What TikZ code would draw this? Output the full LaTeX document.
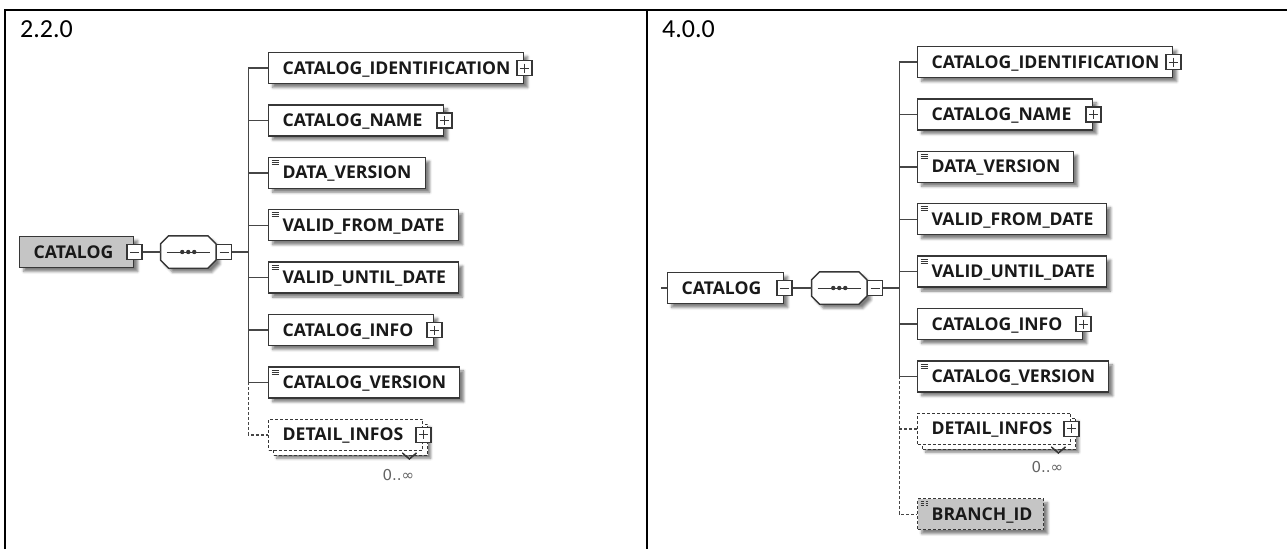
\documentclass[tikz,border=0pt]{standalone}
\usepackage{fontspec}
\setmainfont{Open Sans}
\newfontfamily\hdfont{Carlito}
\newfontfamily\symfont{DejaVu Sans}
\usepackage{tikz}
\usetikzlibrary{positioning,calc,shadows,shadows.blur}
\definecolor{xLine}{RGB}{55,55,55}
\definecolor{xWire}{RGB}{70,70,70}
\definecolor{xGray}{RGB}{197,197,197}
\definecolor{xText}{RGB}{25,25,25}
\definecolor{xMult}{RGB}{100,100,100}
\tikzset{
  base/.style={rectangle, draw=xLine, fill=white, line width=1.4pt,
               minimum height=31pt, inner xsep=14pt, inner ysep=0pt,
               text height=12pt, text depth=0pt, align=left, anchor=west,
               font=\fontsize{17.6pt}{20pt}\selectfont\bfseries, text=xText},
  shd/.style={blur shadow={shadow xshift=4pt, shadow yshift=-4pt,
               shadow blur radius=2.5pt, shadow opacity=50}},
  opt/.style={dash pattern=on 3pt off 2pt},
  multi/.style={opt,
               blur shadow={shadow xshift=8pt, shadow yshift=-8pt,
                            shadow blur radius=2.5pt, shadow opacity=50},
               general shadow={shadow xshift=5pt, shadow yshift=-5pt,
                               draw=xLine, fill=white, line width=1.4pt, opt}},
  doc/.style={path picture={%
      \foreach \k in {3,5,7}
        \draw[xLine, line width=0.7pt]
          ([xshift=3pt,yshift=-\k pt]path picture bounding box.north west) -- ++(7,0);}},
  pbox/.style={rectangle, draw=xLine, fill=white, line width=1.3pt,
               minimum size=15pt, inner sep=0pt,
               path picture={\draw[xLine, line width=1pt]
                 ([xshift=3pt]path picture bounding box.west) -- ([xshift=-3pt]path picture bounding box.east)
                 ([yshift=-3pt]path picture bounding box.north) -- ([yshift=3pt]path picture bounding box.south);}},
  mbox/.style={rectangle, draw=xLine, fill=white, line width=1.3pt,
               minimum size=15pt, inner sep=0pt,
               path picture={\draw[xLine, line width=1pt]
                 ([xshift=3pt]path picture bounding box.west) -- ([xshift=-3pt]path picture bounding box.east);}},
  seq/.style={rectangle, minimum width=54pt, minimum height=31pt, inner sep=0pt, outer sep=0.7pt},
  seqline/.style={draw=xLine, fill=white, line width=1.4pt, shd},
  conn/.style={draw=xWire, line width=1.4pt},
  dconn/.style={conn, opt},
  frame/.style={draw=black, line width=2pt},
  ver/.style={font=\hdfont\fontsize{26pt}{30pt}\selectfont, anchor=base west, inner sep=0pt},
  mult/.style={font=\symfont\fontsize{15pt}{17pt}\selectfont, text=xMult, inner sep=0pt},
}
\newcommand{\XsdElem}[4][]{%
  \node[base,text width=#3,#1] (#2) {#4};}
\newcommand{\XsdPlus}[1]{%
  \node[pbox] (#1-p) at (#1.east) {};}
% sequence compositor: octagon round an empty node, with the dotted bar
\newcommand{\XsdSeq}[1]{%
  \draw[seqline] ([xshift=8pt]#1.north west) -- ([xshift=-8pt]#1.north east)
    -- ([yshift=-8pt]#1.north east) -- ([yshift=8pt]#1.south east)
    -- ([xshift=-8pt]#1.south east) -- ([xshift=8pt]#1.south west)
    -- ([yshift=8pt]#1.south west) -- ([yshift=-8pt]#1.north west) -- cycle;
  \draw[xLine, line width=1pt] ([xshift=6pt]#1.west) -- ([xshift=-6pt]#1.east);
  \foreach \d in {-6,0,6}
    \fill[xLine] ([xshift=\d pt]#1.center) circle (2.2pt);}

\begin{document}
\begin{tikzpicture}[x=1pt,y=-1pt]
  \useasboundingbox (0,0) rectangle (1287,549);

  % table rules
  \draw[frame] (5,549) -- (5,10) -- (1287,10);
  \draw[frame] (646.5,10) -- (646.5,549);

  %%% version 2.2.0
  \node[ver] (lver) at (20,37) {2.2.0};
  \XsdElem[shd,fill=xGray,at={(19,252)}]{lcat}{86pt}{CATALOG}
  \node[mbox] (lcat-m) at (lcat.east) {};
  \node[seq,right=18pt of lcat-m] (lseq) {};
  \XsdSeq{lseq}
  \node[mbox,anchor=west] (lseq-m) at (lseq.east) {};
  \coordinate[right=16pt of lseq-m] (lj);

  \XsdElem[shd,at={(268,68)}]{lid}{227pt}{CATALOG\_IDENTIFICATION}
  \XsdElem[shd,below right=20pt and 0pt of lid.south west]{lnm}{147pt}{CATALOG\_NAME}
  \XsdElem[shd,doc,below right=20pt and 0pt of lnm.south west]{ldv}{129pt}{DATA\_VERSION}
  \XsdElem[shd,doc,below right=20pt and 0pt of ldv.south west]{lfd}{162pt}{VALID\_FROM\_DATE}
  \XsdElem[shd,doc,below right=20pt and 0pt of lfd.south west]{lud}{162pt}{VALID\_UNTIL\_DATE}
  \XsdElem[shd,below right=20pt and 0pt of lud.south west]{lin}{137pt}{CATALOG\_INFO}
  \XsdElem[shd,doc,below right=20pt and 0pt of lin.south west]{lve}{163pt}{CATALOG\_VERSION}
  \XsdElem[multi,below right=20pt and 0pt of lve.south west]{ldi}{126pt}{DETAIL\_INFOS}
  \foreach \n in {lid,lnm,lin,ldi} \XsdPlus{\n}
  \draw[xLine, line width=1pt] ($(ldi.south east)+(-21,2)$) -- ++(7,6) -- ++(7,-6);
  \node[mult] (ldi-n) at ($(ldi.south east)+(-25,24)$) {0..∞};

  \draw[conn] (lcat-m) -- (lseq);
  \draw[conn] (lseq-m) -- (lj);
  \draw[conn] (lj |- lid.west) -- (lj |- lve.west);
  \foreach \n in {lid,lnm,ldv,lfd,lud,lin,lve}
    \draw[conn] (lj |- \n.west) -- (\n.west);
  \draw[dconn] (lj |- lve.west) |- (ldi.west);

  %%% version 4.0.0
  \node[ver] (rver) at (662,37) {4.0.0};
  \XsdElem[shd,at={(667,288)}]{rcat}{88pt}{CATALOG}
  \coordinate[left=6pt of rcat] (rstub);
  \node[mbox] (rcat-m) at (rcat.east) {};
  \node[seq,right=19pt of rcat-m] (rseq) {};
  \XsdSeq{rseq}
  \node[mbox,anchor=west] (rseq-m) at (rseq.east) {};
  \coordinate[right=16pt of rseq-m] (rj);

  \XsdElem[shd,at={(917,62)}]{rid}{227pt}{CATALOG\_IDENTIFICATION}
  \XsdElem[shd,below right=20pt and 0pt of rid.south west]{rnm}{147pt}{CATALOG\_NAME}
  \XsdElem[shd,doc,below right=20pt and 0pt of rnm.south west]{rdv}{128pt}{DATA\_VERSION}
  \XsdElem[shd,doc,below right=20pt and 0pt of rdv.south west]{rfd}{161pt}{VALID\_FROM\_DATE}
  \XsdElem[shd,doc,below right=20pt and 0pt of rfd.south west]{rud}{161pt}{VALID\_UNTIL\_DATE}
  \XsdElem[shd,below right=20pt and 0pt of rud.south west]{rin}{137pt}{CATALOG\_INFO}
  \XsdElem[shd,doc,below right=20pt and 0pt of rin.south west]{rve}{163pt}{CATALOG\_VERSION}
  \XsdElem[multi,below right=20pt and 0pt of rve.south west]{rdi}{125pt}{DETAIL\_INFOS}
  \XsdElem[shd,doc,opt,fill=xGray,below right=53pt and 0pt of rdi.south west]{rbr}{98pt}{BRANCH\_ID}
  \foreach \n in {rid,rnm,rin,rdi} \XsdPlus{\n}
  \draw[xLine, line width=1pt] ($(rdi.south east)+(-20,2)$) -- ++(7,6) -- ++(7,-6);
  \node[mult] (rdi-n) at ($(rdi.south east)+(-24,22)$) {0..∞};

  \draw[conn] (rstub) -- (rcat);
  \draw[conn] (rcat-m) -- (rseq);
  \draw[conn] (rseq-m) -- (rj);
  \draw[conn] (rj |- rid.west) -- (rj |- rve.west);
  \foreach \n in {rid,rnm,rdv,rfd,rud,rin,rve}
    \draw[conn] (rj |- \n.west) -- (\n.west);
  \draw[dconn] (rj |- rve.west) |- (rbr.west);
  \draw[dconn] (rj |- rdi.west) -- (rdi.west);
\end{tikzpicture}
\end{document}
